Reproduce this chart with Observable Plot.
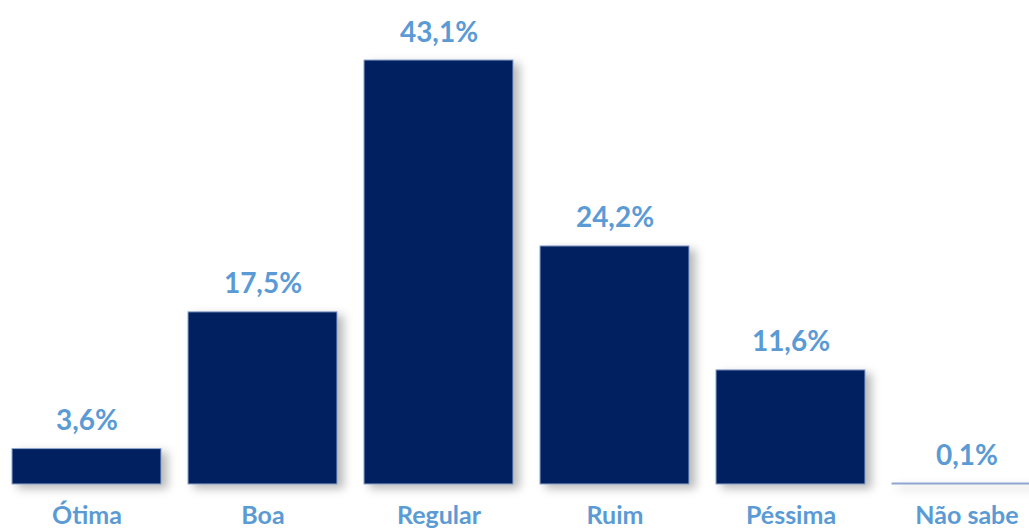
<!DOCTYPE html>
<html>
<head>
<meta charset="utf-8">
<script src="https://cdn.jsdelivr.net/npm/d3@7"></script>
<script src="https://cdn.jsdelivr.net/npm/@observablehq/plot@0.6"></script>
<style>
  html, body { margin: 0; padding: 0; background: #fff; overflow: hidden; }
  #chart svg { display: block; }
</style>
</head>
<body>
<div id="chart"></div>
<script>
const categories = ["Ótima", "Boa", "Regular", "Ruim", "Péssima", "Não sabe"];
const values = [3.6, 17.5, 43.1, 24.2, 11.6, 0.1];
const labels = ["3,6%", "17,5%", "43,1%", "24,2%", "11,6%", "0,1%"];

const data = categories.map((c, i) => ({ cat: c, value: values[i], label: labels[i] }));

const FONT = "Lato, 'Open Sans', sans-serif";
const LABEL_COLOR = "#5b9bd5";

const chart = Plot.plot({
  width: 1029,
  height: 529,
  marginTop: 0, marginBottom: 0, marginLeft: 0, marginRight: 0,
  style: { fontFamily: FONT, background: "#fff", overflow: "hidden" },
  x: { domain: categories, range: [10, 1044], paddingInner: 0.1525, paddingOuter: 0, axis: null },
  y: { domain: [0, 43.1], range: [484, 60], axis: null },
  marks: [
    Plot.barY(data, { x: "cat", y: "value", fill: "#002060", stroke: "#8fa6cf", strokeWidth: 1 }),
    Plot.text(data, {
      x: "cat", y: "value", text: "label", dy: -19,
      fill: LABEL_COLOR, fontSize: 28, fontWeight: "bold", lineAnchor: "bottom"
    }),
    Plot.text(data, {
      x: "cat", y: 0, text: "cat", dy: 39,
      fill: LABEL_COLOR, fontSize: 25, fontWeight: "bold", lineAnchor: "bottom"
    })
  ]
});

d3.select(chart).select("g[aria-label='bar']")
  .style("filter", "drop-shadow(6px 4px 5px rgba(0,0,0,0.28))");

document.getElementById("chart").appendChild(chart);
</script>
</body>
</html>
